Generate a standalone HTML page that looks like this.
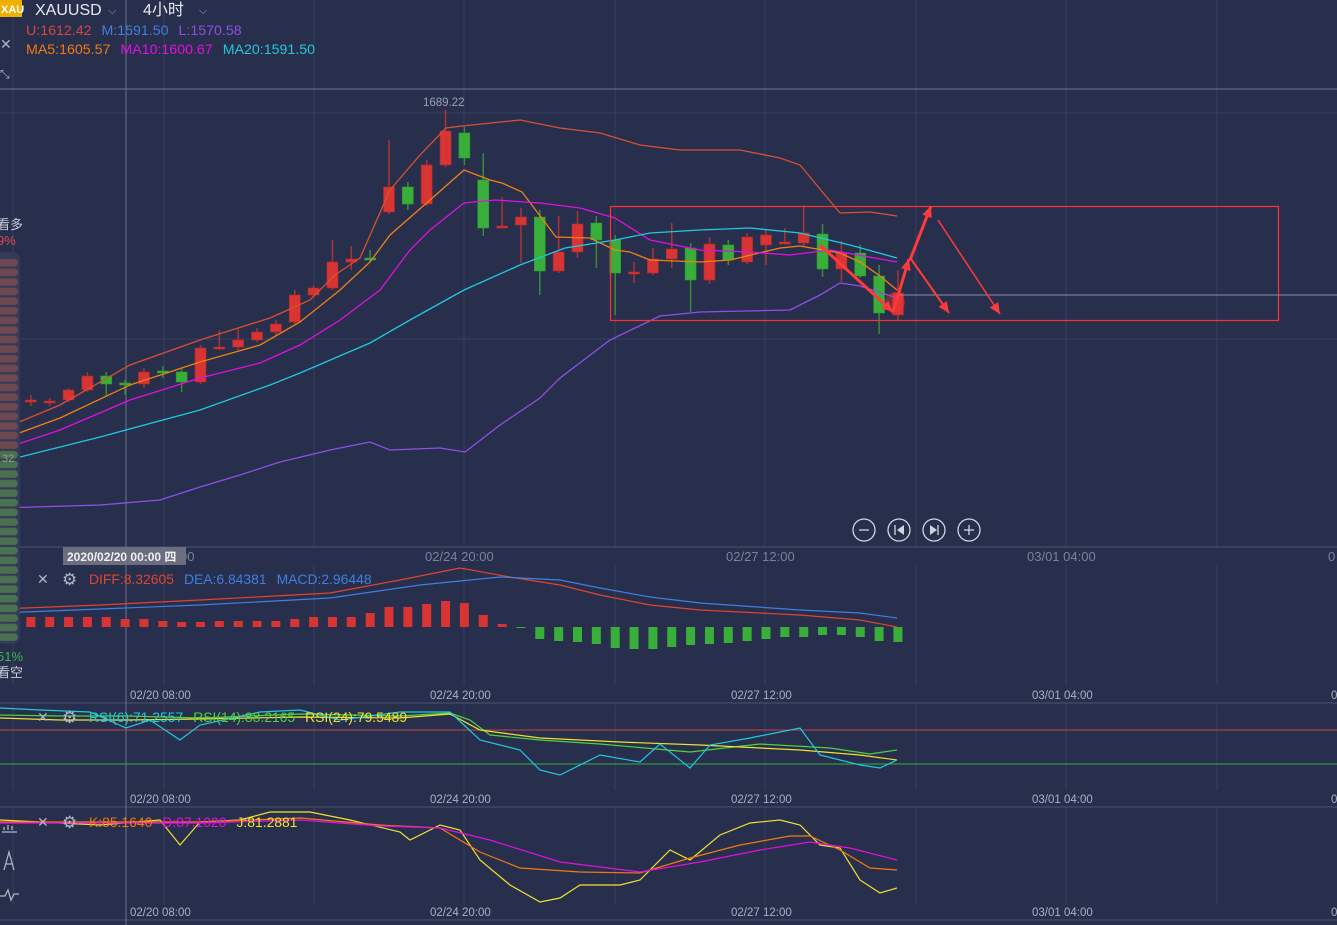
<!DOCTYPE html>
<html><head><meta charset="utf-8"><style>
html,body{margin:0;padding:0;background:#282f4d;width:1337px;height:925px;overflow:hidden;font-family:"Liberation Sans","Noto Sans CJK SC",sans-serif}
svg{position:absolute;left:0;top:0}
</style></head><body>
<svg id="s" width="1337" height="925" xmlns="http://www.w3.org/2000/svg" font-family="Liberation Sans, Noto Sans CJK SC, sans-serif">
<rect width="1337" height="925" fill="#282f4d"/>
<g id="grid" stroke="#363e5e" stroke-width="1"></g>
<g id="main"></g>
<!-- header -->
<rect x="0" y="0" width="22" height="17" fill="#f0b000"/>
<text x="1" y="13" font-size="11" fill="#fff" font-weight="bold">XAU</text>
<text x="35" y="15" font-size="16" fill="#e6e8f0">XAUUSD</text>
<text x="108" y="14" font-size="11" fill="#9aa0b8">⌵</text>
<text x="143" y="15" font-size="16" fill="#e6e8f0">4小时</text>
<text x="199" y="14" font-size="11" fill="#9aa0b8">⌵</text>
<text x="26" y="35" font-size="14.2"><tspan fill="#d1493f">U:1612.42</tspan><tspan dx="10" fill="#3f7fe0">M:1591.50</tspan><tspan dx="10" fill="#8f4fe8">L:1570.58</tspan></text>
<text x="26" y="54" font-size="14.2"><tspan fill="#f07a10">MA5:1605.57</tspan><tspan dx="10" fill="#e010e0">MA10:1600.67</tspan><tspan dx="10" fill="#20c8d8">MA20:1591.50</tspan></text>
<text x="0" y="49" font-size="14" fill="#b0b4c4">✕</text>
<text x="0" y="78" font-size="12" fill="#b0b4c4">⤡</text>
<text x="423" y="106" font-size="11.5" fill="#9aa0b4">1689.22</text>
<!-- red box -->
<rect x="610.5" y="206.5" width="668" height="114" fill="none" stroke="#ff3030" stroke-width="1.2"/>
<line x1="897" y1="295" x2="1337" y2="295" stroke="#8a8fa6" stroke-width="1"/>
<g id="arrows" stroke="#ff3a3a" fill="#ff3a3a"></g>
<g id="side"></g>
<text x="-3" y="229" font-size="13" fill="#c8ccd8">看多</text>
<text x="-3" y="245" font-size="13" fill="#e04848">9%</text>
<text x="-3" y="661" font-size="13" fill="#3cb84a">51%</text>
<text x="-3" y="677" font-size="13" fill="#c8ccd8">看空</text>
<g stroke="#d0d4e0" fill="none" stroke-width="1.3">
<circle cx="864" cy="530" r="11"/><circle cx="899" cy="530" r="11"/><circle cx="934" cy="530" r="11"/><circle cx="969" cy="530" r="11"/>
<line x1="859" y1="530" x2="869" y2="530"/><line x1="964" y1="530" x2="974" y2="530"/><line x1="969" y1="525" x2="969" y2="535"/>
<line x1="895" y1="525" x2="895" y2="535"/><line x1="930" y1="525" x2="930" y2="535" transform="translate(8,0)"/>
</g>
<polygon points="904,525 897,530 904,535" fill="#d0d4e0"/><polygon points="930,525 937,530 930,535" fill="#d0d4e0"/>
<g font-size="13" fill="#7c8299">
<text x="425" y="561">02/24 20:00</text><text x="726" y="561">02/27 12:00</text><text x="1027" y="561">03/01 04:00</text><text x="1328" y="561">0</text><text x="180" y="561">00</text>
</g>
<rect x="63" y="547" width="123" height="18" fill="#6a6e7e"/>
<text x="67" y="561" font-size="12" fill="#f0f0f0" font-weight="bold">2020/02/20 00:00 四</text>
<g font-size="11.5" fill="#aab0c2">
<text x="130" y="699">02/20 08:00</text><text x="430" y="699">02/24 20:00</text><text x="731" y="699">02/27 12:00</text><text x="1032" y="699">03/01 04:00</text><text x="1331" y="699">0</text>
<text x="130" y="803">02/20 08:00</text><text x="430" y="803">02/24 20:00</text><text x="731" y="803">02/27 12:00</text><text x="1032" y="803">03/01 04:00</text><text x="1331" y="803">0</text>
<text x="130" y="916">02/20 08:00</text><text x="430" y="916">02/24 20:00</text><text x="731" y="916">02/27 12:00</text><text x="1032" y="916">03/01 04:00</text><text x="1331" y="916">0</text>
</g>
<g font-size="14" fill="#b0b4c4"><text x="37" y="584">✕</text><text x="37" y="722">✕</text><text x="37" y="827">✕</text>
<text x="62" y="585" font-size="17">⚙</text><text x="62" y="723" font-size="17">⚙</text><text x="62" y="828" font-size="17">⚙</text></g>
<text x="89" y="584" font-size="13.9"><tspan fill="#e0442e">DIFF:8.32605</tspan><tspan dx="10" fill="#3f7fe0">DEA:6.84381</tspan><tspan dx="10" fill="#3f7fe0">MACD:2.96448</tspan></text>
<text x="89" y="722" font-size="13.9"><tspan fill="#20c8d8">RSI(6):71.2557</tspan><tspan dx="10" fill="#50d040">RSI(14):88.2165</tspan><tspan dx="10" fill="#f0e030">RSI(24):79.5489</tspan></text>
<text x="89" y="827" font-size="13.9"><tspan fill="#f07a10">K:85.1640</tspan><tspan dx="10" fill="#e010e0">D:87.1020</tspan><tspan dx="10" fill="#f0e030">J:81.2881</tspan></text>
<g fill="none" stroke="#b0b4c4" stroke-width="1.3">
<path d="M2,832 L17,832 M4,830 v-3 M8,830 v-5 M12,830 v-4"/>
<path d="M4,870 L9,852 L14,870 M6,864 h6"/>
<path d="M0,896 h5 l3,-6 l3,10 l3,-6 h5"/>
</g>
</svg>
<script>
const s=document.getElementById('s'),NS='http://www.w3.org/2000/svg';
function el(p,t,a){const e=document.createElementNS(NS,t);for(const k in a)e.setAttribute(k,a[k]);(typeof p==='string'?document.getElementById(p):p).appendChild(e);return e;}
const g='grid';
[13,164,314,464,615,765,916,1066,1217].forEach(x=>{el(g,'line',{x1:x,y1:0,x2:x,y2:547});el(g,'line',{x1:x,y1:565,x2:x,y2:685});el(g,'line',{x1:x,y1:705,x2:x,y2:790});el(g,'line',{x1:x,y1:808,x2:x,y2:905});});
[113,339].forEach(y=>el(g,'line',{x1:0,y1:y,x2:1337,y2:y}));
el(g,'line',{x1:0,y1:89,x2:1337,y2:89,stroke:'#70768e'});
[547,703,807,920].forEach(y=>el(g,'line',{x1:0,y1:y,x2:1337,y2:y,stroke:'#4a5272'}));
el(g,'line',{x1:126,y1:0,x2:126,y2:925,stroke:'#6a7090'});
el(g,'line',{x1:0,y1:730,x2:1337,y2:730,stroke:'#c04848'});
el(g,'line',{x1:0,y1:764,x2:1337,y2:764,stroke:'#30b040'});
const C=[[402,400,398,405],[402,400,395,406],[402,401,398,406],[400,390,388,402],[390,376,372,392],[376,384,372,396],[383,384,380,395],[384,372,368,388],[371,372,366,378],[372,382,368,392],[382,348,345,384],[347,347,330,350],[347,340,328,350],[340,332,328,342],[332,324,320,335],[322,295,290,324],[295,288,285,298],[288,262,240,290],[262,259,246,270],[258,259,250,262],[212,187,140,214],[187,204,182,210],[204,165,160,206],[165,131,110,167],[133,158,127,165],[180,228,153,236],[226,226,197,228],[225,217,208,263],[217,271,210,295],[271,252,216,273],[252,224,211,258],[223,240,216,268],[240,273,235,315],[272,272,262,283],[273,259,248,275],[259,249,223,268],[248,280,243,312],[280,244,237,284],[245,260,240,265],[262,237,233,264],[245,235,230,265],[242,242,228,244],[243,233,205,246],[234,269,224,277],[269,253,241,282],[253,276,245,278],[276,313,265,334],[315,293,270,320]];
const xs=i=>12+i*18.85;
C.forEach((c,i)=>{const x=xs(i);const up=c[1]>c[0];const col=up?'#3aae3a':'#d83434';
el('main','line',{x1:x,y1:c[2],x2:x,y2:c[3],stroke:up?'#3a8a3a':'#a83434','stroke-width':1.5});
const t=Math.min(c[0],c[1]),h=Math.max(2,Math.abs(c[1]-c[0]));
el('main','rect',{x:x-5.5,y:t,width:11,height:h,fill:col,stroke:up?'#2a9a2a':'#b02a2a','stroke-width':0.6});});
function pl(p,pts,col,w){el(p,'polyline',{points:pts,fill:'none',stroke:col,'stroke-width':w||1.3});}
pl('main','0,430 60,405 130,365 200,340 270,318 310,300 335,275 360,258 390,190 420,155 446,128 462,126 520,120 560,128 600,133 640,145 680,150 740,150 780,158 800,165 840,213 870,212 897,216','#d8502e');
pl('main','0,440 60,418 130,385 200,362 260,345 300,322 340,290 370,262 390,235 430,200 464,170 490,180 502,183 522,192 556,237 590,238 615,250 630,252 650,260 700,262 730,260 780,248 800,246 840,253 860,262 880,276 897,290','#f08010');
pl('main','0,450 60,430 130,400 200,378 260,363 300,345 340,320 380,290 410,250 430,230 464,203 495,200 540,203 580,208 615,218 650,240 700,250 750,252 790,255 830,250 897,262','#e010e0');
pl('main','0,462 100,437 200,410 270,385 300,373 370,343 410,320 464,290 520,265 565,248 615,240 650,233 700,230 750,228 800,233 850,245 897,258','#20c8e0');
pl('main','0,508 100,505 160,500 200,487 240,475 280,462 330,450 370,442 390,450 440,448 465,452 500,425 540,398 560,378 610,340 660,316 700,312 790,310 820,295 840,283 860,286 897,298','#8f4fe8');
el('main','circle',{cx:895,cy:302,r:10,fill:'#ff3030',opacity:0.35});
function arr(x1,y1,x2,y2,w,hs){const a=document.getElementById('arrows');el(a,'line',{x1,y1,x2,y2,'stroke-width':w});
const ang=Math.atan2(y2-y1,x2-x1),L=hs*2.2,W=hs;const bx=x2-L*Math.cos(ang),by=y2-L*Math.sin(ang);
el(a,'polygon',{points:`${x2},${y2} ${bx+W*Math.sin(ang)},${by-W*Math.cos(ang)} ${bx-W*Math.sin(ang)},${by+W*Math.cos(ang)}`,stroke:'none'});}
arr(820,245,893,312,3,5);
arr(893,312,909,259,3,5);
arr(910,260,931,206,3,5);
arr(911,259,949,313,2,5);
arr(938,220,1000,314,1.5,5);
const sd=document.getElementById('side');
el(sd,'rect',{x:-4,y:252,width:24,height:392,rx:8,fill:'#343b5a'});
for(let y=259;y<640;y+=9.6){el(sd,'rect',{x:-2,y:y,width:20,height:7.5,rx:3.7,fill:y<448?'#7a4a50':'#4e7a4e',opacity:0.85});}
el(sd,'text',{x:2,y:462,'font-size':11,fill:'#8fa08f'}).textContent='32';
const M=[10,10,10,10,10,10,8,8,6,5,5,6,6,6,6,8,10,10,10,14,20,20,23,26,24,12,3,-1,-12,-14,-15,-17,-21,-22,-22,-20,-18,-17,-16,-14,-12,-10,-10,-8,-8,-10,-14,-15];
M.forEach((v,i)=>{const x=xs(i);el('main','rect',{x:x-4.5,y:v>0?627-v:627,width:9,height:Math.abs(v)||1,fill:v>0?'#d83434':'#3aae3a'});});
pl('main','0,609 100,605 200,600 330,593 400,580 460,568 510,577 560,585 600,595 650,605 700,610 800,615 860,620 897,627','#e0442e',1.2);
pl('main','0,613 100,609 200,605 330,598 420,585 500,577 560,580 600,588 650,597 700,603 800,610 860,613 897,618','#3f7fe0',1.2);
pl('main','0,715 60,716 126,716 200,718 300,714 400,716 450,713 470,720 490,735 540,740 600,744 690,752 760,744 830,748 870,754 897,750','#50d040',1.2);
pl('main','0,718 60,720 126,720 200,719 300,717 400,718 450,714 480,730 540,738 620,742 700,745 800,750 860,755 897,760','#f0e030',1.2);
pl('main','0,708 40,710 90,712 126,728 150,720 180,740 200,725 260,712 300,710 340,720 400,712 450,712 480,740 520,750 540,770 560,775 600,755 640,762 660,744 690,768 710,745 750,738 800,728 820,755 860,765 880,768 897,760','#20c8e0',1.2);
pl('main','0,820 60,823 100,825 160,820 180,845 200,822 240,820 270,812 310,812 350,820 400,832 410,840 440,825 460,830 480,860 510,885 540,902 560,898 580,885 620,885 640,880 670,850 690,860 720,835 750,823 780,820 800,825 820,845 840,848 860,880 880,893 897,888','#f0e030',1.2);
pl('main','0,822 100,822 200,822 300,818 380,825 440,828 480,852 520,868 580,872 640,873 690,858 740,845 790,836 810,836 840,850 870,868 897,870','#f07a10',1.2);
pl('main','0,823 100,823 200,823 300,820 380,826 440,828 490,840 560,862 640,872 700,862 760,850 810,842 850,848 897,860','#e010e0',1.2);
</script>
</body></html>
